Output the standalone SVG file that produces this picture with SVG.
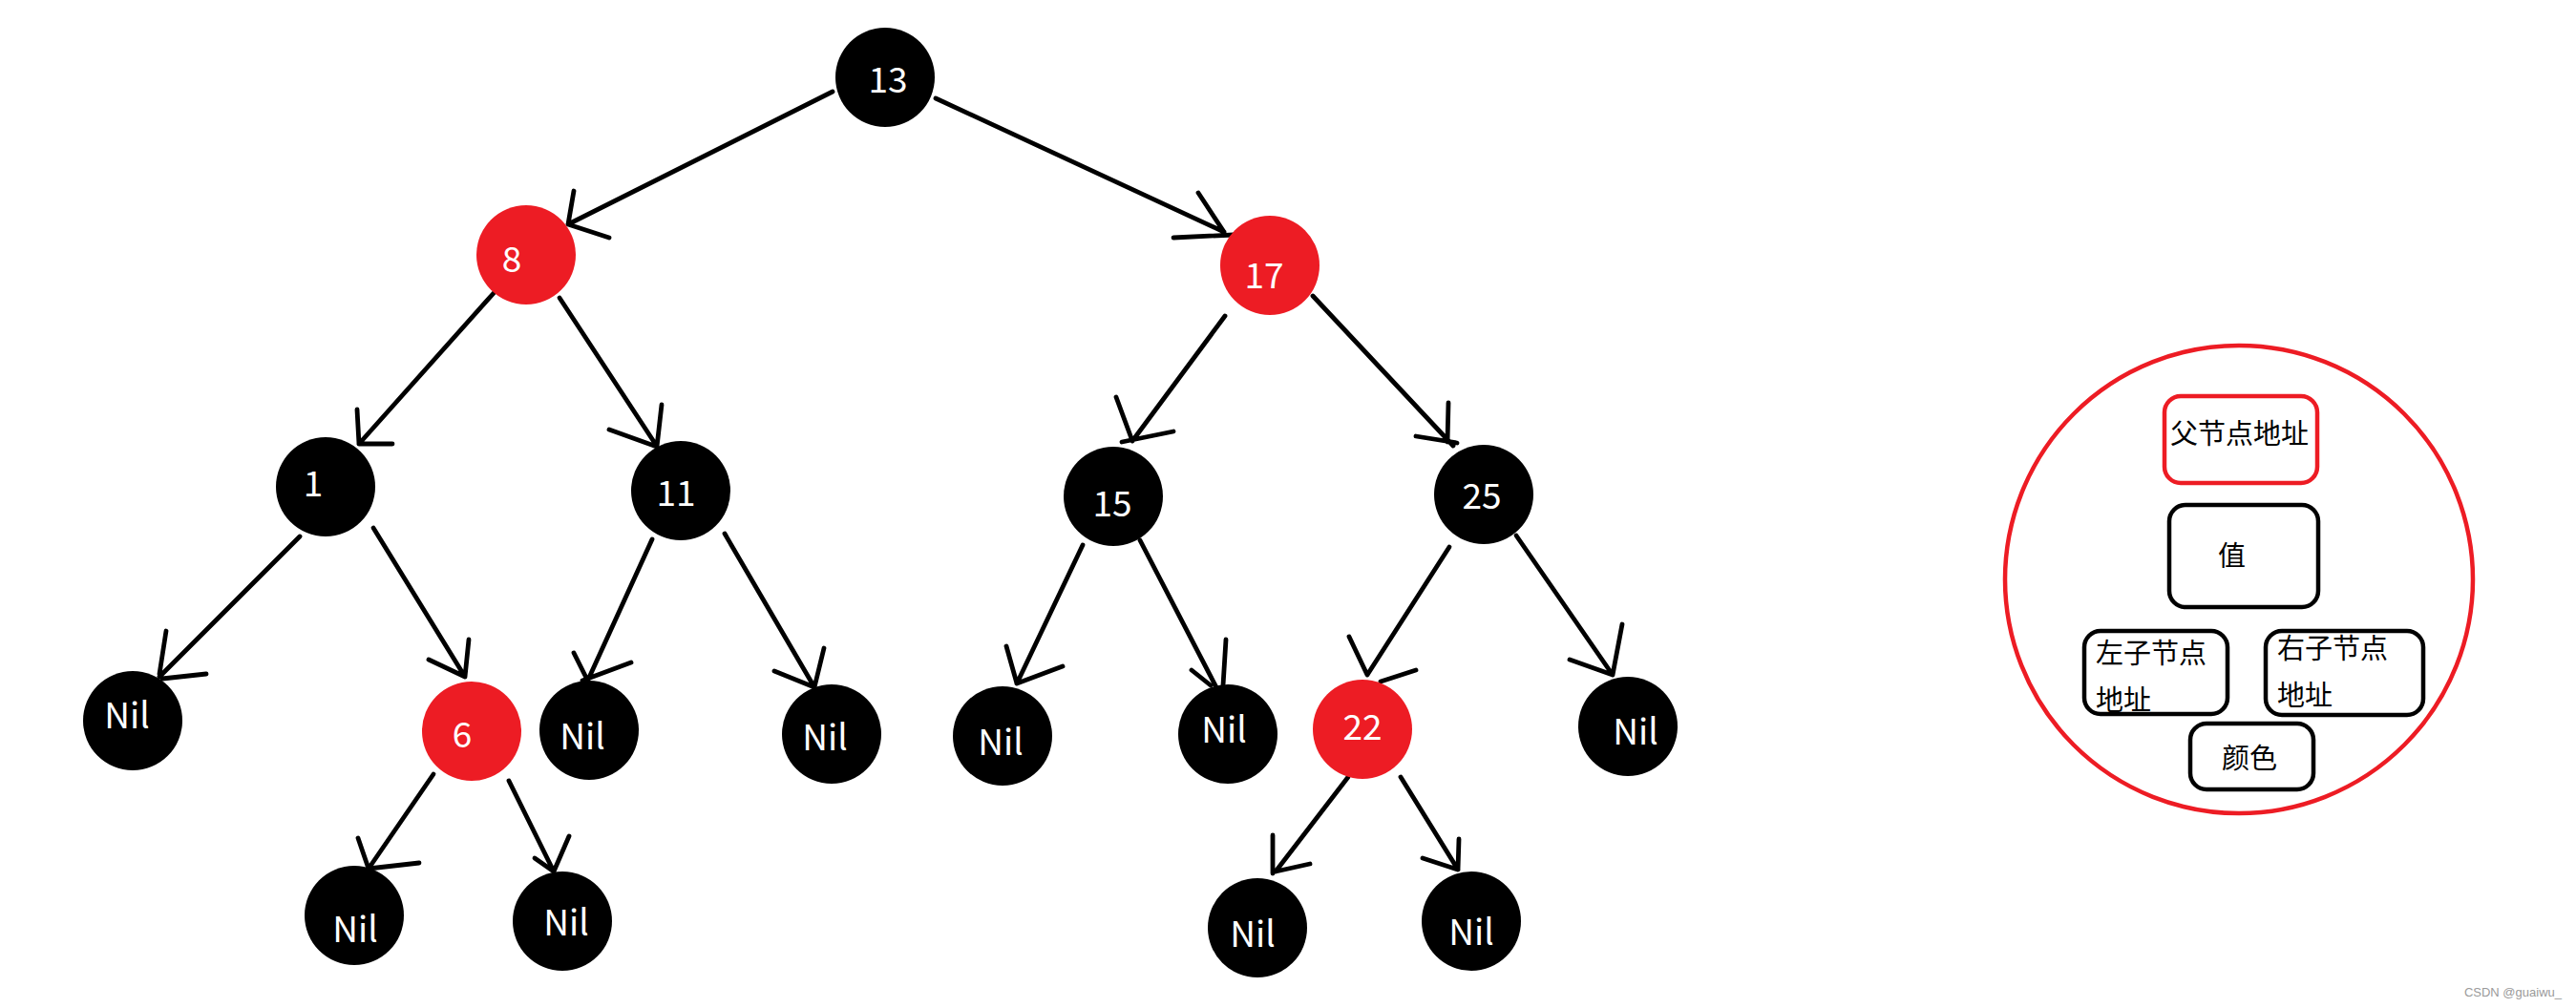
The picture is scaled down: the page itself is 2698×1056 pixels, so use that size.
<svg xmlns="http://www.w3.org/2000/svg" width="2698" height="1056" viewBox="0 0 2698 1056">
<style>
.bk{fill:#000}
.rd{fill:#ed1c24}
.lbl{fill:#fff;font-family:"Microsoft YaHei","Noto Sans CJK SC","Noto Sans",sans-serif;font-size:37px;text-anchor:middle}
.edge{fill:none;stroke:#000;stroke-width:4.8;stroke-linecap:round;stroke-linejoin:round}
.box{fill:none;stroke:#000;stroke-width:4.5}
.rbox{fill:none;stroke:#ed1c24;stroke-width:4.5}
.cjk{fill:#000;font-family:"Noto Sans CJK SC","Microsoft YaHei",sans-serif;font-size:29px}
.wm{fill:#9a9a9a;font-family:"Liberation Sans",Arial,sans-serif;font-size:13px;text-anchor:end}
</style>
<rect width="2698" height="1056" fill="#fff"/>
<g id="connectors">
<path class="edge" d="M872 96 L595 235 M601 200 L595 235 L638 249"/>
<path class="edge" d="M980 103 L1282 243 M1255 202 L1282 243 M1229 249 L1292 246"/>
<path class="edge" d="M518 306 L376 465 M374 429 L376 465 L411 465"/>
<path class="edge" d="M586 312 L687 466 M693 424 L688 468 L638 450"/>
<path class="edge" d="M1283 331 L1186 462 M1169 416 L1186 462 M1175 463 L1229 452"/>
<path class="edge" d="M1375 310 L1522 467 M1517 422 L1516 463 M1483 457 L1526 464"/>
<path class="edge" d="M314 562 L167 709 M174 661 L167 706 M170 711 L216 706"/>
<path class="edge" d="M391 553 L487 709 M491 670 L487 709 L449 691"/>
<path class="edge" d="M683 565 L616 712 M601 684 L614 710 M610 713 L661 694"/>
<path class="edge" d="M759 559 L853 720 M863 679 L853 720 L811 703"/>
<path class="edge" d="M1134 571 L1065 716 M1054 677 L1065 716 L1113 698"/>
<path class="edge" d="M1194 566 L1275 722 M1284 670 L1281 718 M1248 702 L1268 718"/>
<path class="edge" d="M1518 573 L1432 707 M1413 667 L1432 707 M1446 714 L1483 702"/>
<path class="edge" d="M1588 561 L1689 707 M1699 654 L1689 707 L1644 691"/>
<path class="edge" d="M454 811 L386 910 M375 878 L386 910 L439 904"/>
<path class="edge" d="M533 818 L580 913 M596 876 L580 913 L560 899"/>
<path class="edge" d="M1412 814 L1336 913 M1333 875 L1333 915 M1336 913 L1372 905"/>
<path class="edge" d="M1467 814 L1527 911 M1528 879 L1527 911 L1490 899"/>
</g>
<g id="n13"><circle class="bk" cx="927" cy="81" r="52"/><text class="lbl" x="930" y="97">13</text></g>
<g id="n8"><circle class="rd" cx="551" cy="267" r="52"/><text class="lbl" x="536" y="285">8</text></g>
<g id="n17"><circle class="rd" cx="1330" cy="278" r="52"/><text class="lbl" x="1324" y="302">17</text></g>
<g id="n1"><circle class="bk" cx="341" cy="510" r="52"/><text class="lbl" x="328" y="520">1</text></g>
<g id="n11"><circle class="bk" cx="713" cy="514" r="52"/><text class="lbl" x="708" y="530">11</text></g>
<g id="n15"><circle class="bk" cx="1166" cy="520" r="52"/><text class="lbl" x="1165" y="541">15</text></g>
<g id="n25"><circle class="bk" cx="1554" cy="518" r="52"/><text class="lbl" x="1552" y="533">25</text></g>
<g id="nil1L"><circle class="bk" cx="139" cy="755" r="52"/><text class="lbl" x="133" y="763">Nil</text></g>
<g id="n6"><circle class="rd" cx="494" cy="766" r="52"/><text class="lbl" x="484" y="783">6</text></g>
<g id="nil11L"><circle class="bk" cx="617" cy="765" r="52"/><text class="lbl" x="610" y="785">Nil</text></g>
<g id="nil11R"><circle class="bk" cx="871" cy="769" r="52"/><text class="lbl" x="864" y="786">Nil</text></g>
<g id="nil15L"><circle class="bk" cx="1050" cy="771" r="52"/><text class="lbl" x="1048" y="791">Nil</text></g>
<g id="nil15R"><circle class="bk" cx="1286" cy="769" r="52"/><text class="lbl" x="1282" y="778">Nil</text></g>
<g id="n22"><circle class="rd" cx="1427" cy="764" r="52"/><text class="lbl" x="1427" y="775">22</text></g>
<g id="nil25R"><circle class="bk" cx="1705" cy="761" r="52"/><text class="lbl" x="1713" y="780">Nil</text></g>
<g id="nil6L"><circle class="bk" cx="371" cy="959" r="52"/><text class="lbl" x="372" y="987">Nil</text></g>
<g id="nil6R"><circle class="bk" cx="589" cy="965" r="52"/><text class="lbl" x="593" y="980">Nil</text></g>
<g id="nil22L"><circle class="bk" cx="1317" cy="972" r="52"/><text class="lbl" x="1312" y="992">Nil</text></g>
<g id="nil22R"><circle class="bk" cx="1541" cy="965" r="52"/><text class="lbl" x="1541" y="990">Nil</text></g>
<g id="legend">
<circle cx="2345" cy="607" r="245" fill="none" stroke="#ed1c24" stroke-width="4.5"/>
<g id="legend-parent"><rect class="rbox" x="2267" y="415" width="160" height="91" rx="17"/><text class="cjk" x="2273" y="465">父节点地址</text></g>
<g id="legend-value"><rect class="box" x="2272" y="529" width="156" height="107" rx="17"/><text class="cjk" x="2323" y="593">值</text></g>
<g id="legend-left"><rect class="box" x="2183" y="661" width="150" height="87" rx="17"/><text class="cjk" x="2195" y="695">左子节点</text><text class="cjk" x="2195" y="744">地址</text></g>
<g id="legend-right"><rect class="box" x="2373" y="661" width="165" height="88" rx="17"/><text class="cjk" x="2385" y="690">右子节点</text><text class="cjk" x="2385" y="739">地址</text></g>
<g id="legend-color"><rect class="box" x="2294" y="758" width="129" height="69" rx="17"/><text class="cjk" x="2327" y="805">颜色</text></g>
</g>
<text class="wm" x="2683" y="1044">CSDN @guaiwu_</text>
</svg>
